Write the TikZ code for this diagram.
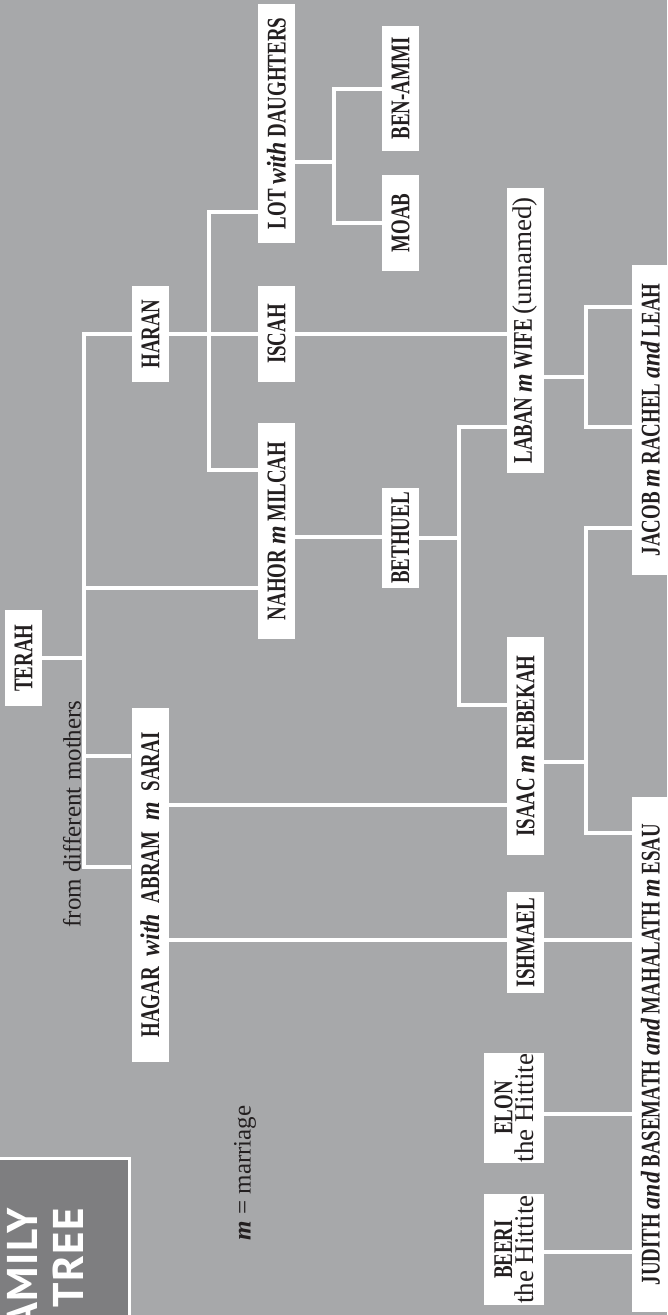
\documentclass[tikz,border=0pt]{standalone}
\usepackage{fontspec}
\setmainfont{Liberation Serif}
\newfontfamily\namefont[FakeStretch=0.7]{Liberation Serif}
\newfontfamily\wordfont[FakeStretch=0.88]{Liberation Serif}
\newfontfamily\titlefont[LetterSpace=3]{PT Sans}
\usepackage{xcolor}
\usepackage{tikz}
\usetikzlibrary{positioning, calc}
\definecolor{pagegray}{HTML}{A7A8AA}
\definecolor{titlegray}{HTML}{7E7E80}
\definecolor{inkblack}{HTML}{231F20}
\newcommand{\conj}[1]{{\wordfont\itshape #1}}
\newcommand{\plain}[1]{{\normalfont\fontsize{27}{21}\selectfont #1}}

\begin{document}
\begin{tikzpicture}[
    x=1pt, y=-1pt,
    namebox/.style={
        rectangle,
        rotate=90,
        fill=white,
        text=inkblack,
        inner sep=0pt,
        minimum height=37pt,
        align=center,
        font=\namefont\bfseries\fontsize{27}{21}\selectfont
    },
    notetext/.style={
        rotate=90,
        text=inkblack,
        inner sep=0pt,
        font=\fontsize{25}{30}\selectfont
    },
    link/.style={draw=white, line width=4pt}
]

\useasboundingbox (0,0) rectangle (667,1315);
\clip (0,0) rectangle (667,1315);
\fill[pagegray] (0,0) rectangle (667,1315);

\fill[titlegray, draw=white, line width=3pt] (-10,1158.5) rectangle (129.5,1330);
\node[rotate=90, text=white, align=center, inner sep=0pt,
      font=\titlefont\bfseries\fontsize{43}{46}\selectfont] (title) at (45,1280)
{FAMILY\\\hspace*{44pt}TREE};

\node[notetext] (mothers) at (72,814) {from different mothers};
\node[notetext] (legend) at (245,1173) {\textbf{\textit{m}} = marriage};

\node[namebox, minimum width=96pt] (terah) at (23.5,658) {TERAH};
\node[namebox, minimum width=96pt] (haran) at (150.5,334) {HARAN};
\node[namebox, minimum width=354pt] (abram) at (150,885)
{HAGAR\hspace{11pt}\conj{with}\hspace{11pt}ABRAM\hspace{11pt}\conj{m}\hspace{11pt}SARAI};
\node[namebox, minimum width=239pt] (lot) at (276.5,123.5) {LOT \conj{with} DAUGHTERS};
\node[namebox, minimum width=96pt] (iscah) at (276.5,334) {ISCAH};
\node[namebox, minimum width=216pt] (nahor) at (276.5,531) {NAHOR \conj{m} MILCAH};
\node[namebox, minimum width=125pt] (benammi) at (400.5,88.5) {BEN-AMMI};
\node[namebox, minimum width=96pt] (moab) at (400.5,223) {MOAB};
\node[namebox, minimum width=100pt] (bethuel) at (400.5,538) {BETHUEL};
\node[namebox, minimum width=285pt] (laban) at (525.5,330.5) {LABAN \conj{m} WIFE \plain{(unnamed)}};
\node[namebox, minimum width=218pt] (isaac) at (525.5,746) {ISAAC \conj{m} REBEKAH};
\node[namebox, minimum width=101pt] (ishmael) at (525.5,942.5) {ISHMAEL};
\node[namebox, minimum width=110pt, minimum height=60pt] (elon) at (514,1108) {ELON\\\plain{the Hittite}};
\node[namebox, minimum width=111pt, minimum height=60pt] (beeri) at (514,1249.5) {BEERI\\\plain{the Hittite}};
\node[namebox, minimum width=310pt] (jacob) at (650.5,420) {JACOB \conj{m} RACHEL \conj{and} LEAH};
\node[namebox, minimum width=515pt] (esau) at (650.5,1054.5)
{JUDITH \conj{and} BASEMATH \conj{and} MAHALATH \conj{m} ESAU};

\coordinate (tspine) at (84,0);
\coordinate (hspine) at (209,0);
\coordinate (lspine) at (334,0);
\coordinate (bspine) at (459,0);
\coordinate (jspine) at (586,0);

\draw[link] (terah.south) -- (terah.south -| tspine);
\draw[link] (haran.north) -- (haran.north -| tspine) -- (tspine |- 0,867) -- (abram.north |- 0,867);
\draw[link] (tspine |- 0,588) -- (nahor.north |- 0,588);
\draw[link] (tspine |- 0,756) -- (abram.north |- 0,756);

\draw[link] (haran.south) -- (iscah.north);
\draw[link] (lot.north |- 0,212) -- (hspine |- 0,212) -- (hspine |- 0,470) -- (nahor.north |- 0,470);

\draw[link] (lot.south |- 0,162) -- (lspine |- 0,162);
\draw[link] (benammi.north) -- (lspine |- benammi.north) -- (lspine |- moab.north) -- (moab.north);

\draw[link] (iscah.south) -- (laban.north |- iscah.south);
\draw[link] (nahor.south |- 0,537) -- (bethuel.north |- 0,537);
\draw[link] (bethuel.south) -- (bspine |- bethuel.south);
\draw[link] (laban.north |- 0,427) -- (bspine |- 0,427) -- (bspine |- 0,705) -- (isaac.north |- 0,705);

\draw[link] (abram.south |- 0,805) -- (isaac.north |- 0,805);
\draw[link] (abram.south |- 0,940) -- (ishmael.north |- 0,940);
\draw[link] (ishmael.south |- 0,940) -- (esau.north |- 0,940);
\draw[link] (elon.south |- 0,1114) -- (esau.north |- 0,1114);
\draw[link] (beeri.south |- 0,1252) -- (esau.north |- 0,1252);

\draw[link] (laban.south |- 0,377) -- (jspine |- 0,377);
\draw[link] (jacob.north |- 0,307) -- (jspine |- 0,307) -- (jspine |- 0,427) -- (jacob.north |- 0,427);
\draw[link] (isaac.south |- 0,762) -- (jspine |- 0,762);
\draw[link] (jacob.north |- 0,528) -- (jspine |- 0,528) -- (jspine |- 0,833) -- (esau.north |- 0,833);

\end{tikzpicture}
\end{document}
